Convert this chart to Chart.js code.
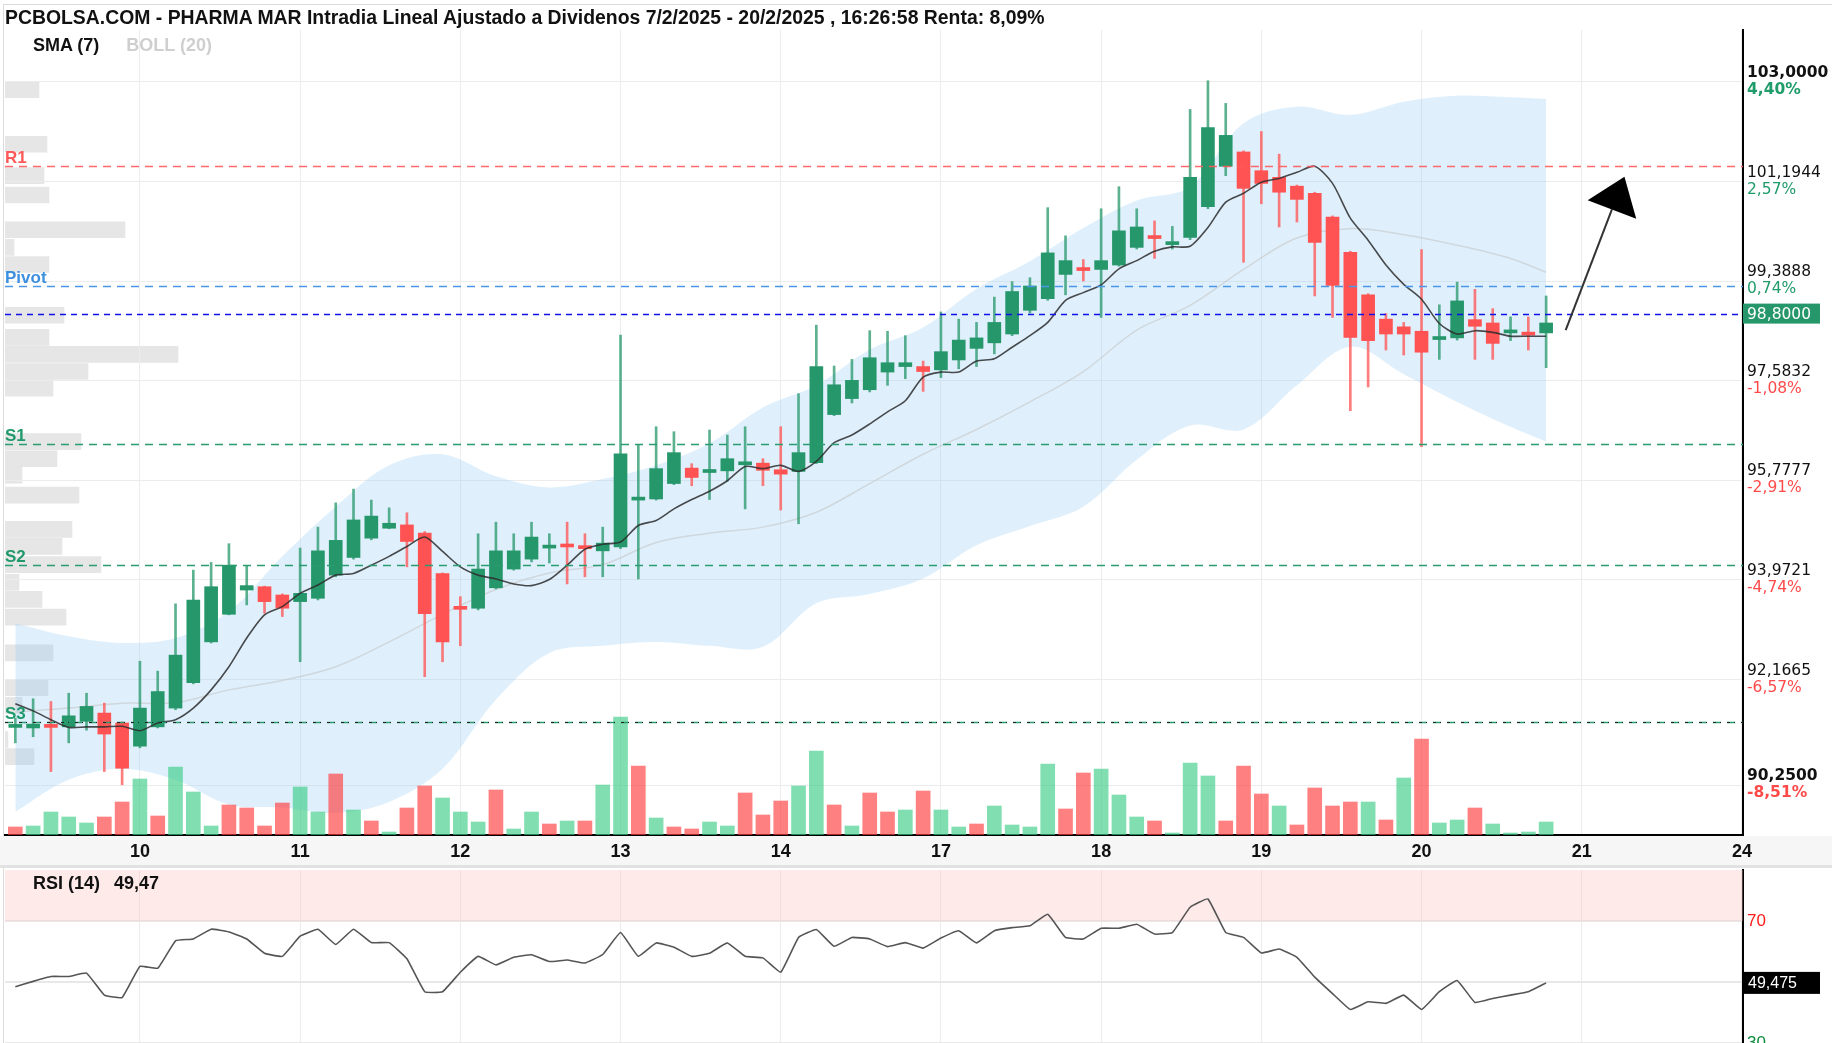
<!DOCTYPE html>
<html>
<head>
<meta charset="utf-8">
<script src="https://cdn.jsdelivr.net/npm/chart.js@4.4.1/dist/chart.umd.min.js"></script>
<style>
  body { margin: 0; background: #fff; width: 1832px; height: 1043px; overflow: hidden; position: relative; font-family: 'Liberation Sans', Arial, sans-serif; }
  canvas { position: absolute; left: 0; }
  #profile, #main { top: 0; }
  #rsi { top: 868px; }
  .txt { position: absolute; white-space: nowrap; }
  #frame { position: absolute; left: 3px; top: 4px; width: 1829px; height: 1039px; border-top: 1px solid #dcdcdc; border-left: 1px solid #dcdcdc; box-sizing: border-box; }
  #title { left: 5px; top: 6px; font: bold 19.4px 'Liberation Sans Narrow', sans-serif; color: #111; }
  #legend { left: 33px; top: 35px; font: bold 18px 'Liberation Sans', sans-serif; color: #111; }
  #legend span { color: #cfcfcf; margin-left: 27px; }
  #rsiLabel { left: 33px; top: 873px; font: bold 18px 'Liberation Sans', sans-serif; color: #111; }
  #rsiLabel span { margin-left: 14px; }
</style>
</head>
<body>
<div id="frame"></div>
<canvas id="profile" width="1832" height="868"></canvas>
<canvas id="main" width="1832" height="868"></canvas>
<canvas id="rsi" width="1832" height="175"></canvas>
<div class="txt" id="title">PCBOLSA.COM - PHARMA MAR Intradia Lineal Ajustado a Dividenos 7/2/2025 - 20/2/2025 , 16:26:58 Renta: 8,09%</div>
<div class="txt" id="legend">SMA (7)<span>BOLL (20)</span></div>
<div class="txt" id="rsiLabel">RSI (14)<span>49,47</span></div>
<script>
// --- datos (velas horarias, 9 por sesión; la primera vela es la de las 11:00 del día 7) ---
const firstSlot = 2;
const days = ['10', '11', '12', '13', '14', '17', '18', '19', '20', '21', '24'];
const daySlots = [9, 18, 27, 36, 45, 54, 63, 72, 81, 90, 99];

const open = [91.30, 91.29, 91.33, 91.31, 91.41, 91.56, 91.38,
  90.96, 91.31, 91.65, 92.11, 92.85, 93.35, 93.79, 93.85, 93.70,
  93.58, 93.64, 94.06, 94.38, 94.73, 94.91, 94.97, 94.82, 94.09,
  93.48, 93.46, 93.83, 94.17, 94.35, 94.55, 94.62, 94.59, 94.50,
  94.57, 95.42, 95.44, 95.72, 96.00, 95.92, 95.95, 96.06, 96.09,
  95.97, 95.94, 96.10, 96.97, 97.26, 97.42, 97.74, 97.84, 97.84,
  97.78, 97.96, 98.17, 98.27, 98.43, 98.86, 99.07, 99.51, 99.62,
  99.60, 99.68, 100.00, 100.20, 100.05, 100.18, 100.74, 101.47, 101.73,
  101.39, 101.27, 101.11, 100.98, 100.55, 99.91, 99.14, 98.70, 98.56,
  98.48, 98.33, 98.36, 98.69, 98.63, 98.45, 98.43, 98.45];
const high = [91.47, 91.82, 91.77, 91.92, 91.92, 91.74, 91.40,
  92.50, 92.32, 93.54, 94.15, 94.29, 94.63, 94.23, 93.86, 93.72,
  94.55, 94.93, 95.37, 95.62, 95.42, 95.28, 95.19, 94.85, 94.10,
  93.67, 94.81, 95.02, 94.81, 95.02, 94.81, 95.02, 94.81, 94.93,
  98.41, 96.42, 96.75, 96.66, 96.08, 96.69, 96.60, 96.75, 96.17,
  96.75, 97.35, 98.59, 97.85, 97.97, 98.49, 98.48, 98.40, 97.94,
  98.83, 98.70, 98.64, 99.10, 99.38, 99.45, 100.72, 100.21, 99.78,
  100.70, 101.10, 100.70, 100.48, 100.38, 102.50, 103.02, 102.61, 101.75,
  102.10, 101.69, 101.13, 101.00, 100.57, 99.93, 99.16, 98.80, 98.64,
  99.96, 98.96, 99.37, 99.24, 98.89, 98.74, 98.74, 99.12];
const low = [91.02, 91.13, 90.50, 91.02, 91.25, 90.50, 90.26,
  90.93, 91.29, 91.62, 92.09, 92.83, 93.34, 93.52, 93.37, 93.31,
  92.49, 93.61, 94.03, 94.35, 94.70, 94.90, 94.21, 92.22, 92.49,
  92.78, 93.43, 93.81, 94.15, 94.30, 94.28, 93.90, 94.03, 94.03,
  94.54, 93.99, 95.42, 95.70, 95.68, 95.43, 95.76, 95.26, 95.68,
  95.24, 94.99, 96.08, 96.95, 97.18, 97.38, 97.50, 97.62, 97.39,
  97.64, 97.80, 97.84, 98.07, 98.40, 98.81, 99.04, 99.14, 99.39,
  98.73, 99.66, 99.97, 99.80, 99.97, 100.14, 100.70, 101.30, 99.73,
  100.79, 100.37, 100.46, 99.12, 98.73, 97.04, 97.47, 98.14, 98.05,
  96.39, 97.97, 98.32, 97.97, 97.97, 98.31, 98.14, 97.82];
const close = [91.34, 91.36, 91.30, 91.51, 91.68, 91.18, 90.56,
  91.65, 91.95, 92.61, 93.61, 93.85, 94.24, 93.87, 93.58, 93.46,
  93.73, 94.50, 94.69, 95.06, 95.13, 95.00, 94.67, 93.36, 92.85,
  93.44, 94.17, 94.50, 94.50, 94.75, 94.60, 94.57, 94.54, 94.64,
  96.26, 95.47, 95.99, 96.28, 95.83, 95.97, 96.17, 96.10, 95.96,
  95.89, 96.28, 97.84, 97.51, 97.59, 98.00, 97.91, 97.91, 97.75,
  98.11, 98.32, 98.36, 98.64, 99.20, 99.30, 99.90, 99.76, 99.58,
  99.76, 100.30, 100.37, 100.16, 100.08, 101.27, 102.17, 102.03, 101.07,
  101.16, 101.00, 100.87, 100.09, 99.31, 98.37, 98.31, 98.43, 98.43,
  98.10, 98.38, 99.03, 98.57, 98.26, 98.48, 98.41, 98.63];
const volume = [8, 9, 23, 18, 12, 18, 33,
  56, 19, 68, 43, 9, 30, 27, 9, 32,
  48, 23, 61, 25, 14, 3, 27, 49, 37,
  23, 13, 45, 6, 23, 11, 14, 14, 50,
  118, 69, 17, 8, 6, 13, 9, 42, 20,
  34, 49, 84, 30, 9, 42, 23, 25, 44,
  25, 8, 11, 29, 10, 8, 71, 26, 62,
  66, 40, 18, 14, 2, 72, 59, 14, 69,
  41, 29, 10, 47, 29, 33, 33, 15, 57,
  96, 12, 15, 27, 11, 2, 3, 13];
const volumeUp = [0, 1, 1, 1, 1, 0, 0,
  1, 0, 1, 1, 1, 0, 0, 0, 0,
  1, 1, 0, 1, 0, 1, 0, 0, 1,
  1, 1, 0, 1, 1, 0, 1, 0, 1,
  1, 0, 1, 0, 0, 1, 1, 0, 0,
  0, 1, 1, 0, 1, 0, 0, 1, 0,
  1, 1, 0, 1, 1, 1, 1, 0, 0,
  1, 1, 1, 0, 1, 1, 1, 0, 0,
  0, 1, 0, 0, 0, 0, 1, 0, 1,
  0, 1, 1, 0, 1, 1, 1, 1];
const sma7 = [91.73, 91.60, 91.44, 91.30, 91.31, 91.31, 91.32,
  91.24, 91.38, 91.44, 91.65, 91.98, 92.40, 92.92, 93.34, 93.49,
  93.73, 93.88, 94.06, 94.09, 94.24, 94.40, 94.58, 94.75, 94.49,
  94.21, 94.06, 93.99, 93.90, 93.87, 93.98, 94.24, 94.53, 94.62,
  94.66, 94.96, 95.05, 95.26, 95.43, 95.58, 95.77, 96.03, 95.99,
  96.05, 95.94, 96.12, 96.46, 96.60, 96.80, 97.02, 97.22, 97.65,
  97.74, 97.74, 97.94, 97.98, 98.19, 98.40, 98.64, 99.04, 99.18,
  99.32, 99.61, 99.76, 99.93, 100.01, 100.02, 100.36, 100.82, 100.98,
  101.18, 101.25, 101.36, 101.47, 101.16, 100.53, 100.13, 99.68, 99.33,
  99.06, 98.62, 98.43, 98.49, 98.46, 98.39, 98.39, 98.39];

const bbSlots = [2, 5, 8, 11, 14, 17, 20, 23, 26, 29, 32, 35, 38, 41, 44, 47, 50, 53, 56, 59, 62, 65, 68, 71, 74, 77, 80, 83, 86, 88];
const bbUpper = [93.19, 92.95, 92.83, 92.92, 93.40, 94.40, 95.30, 96.05, 96.25, 95.85, 95.65, 95.80, 96.05, 96.45, 97.10,
  97.50, 98.15, 98.55, 99.25, 99.75, 100.35, 100.85, 101.10, 102.25, 102.55, 102.40, 102.64, 102.75, 102.72, 102.69];
const bbMid = [91.58, 91.65, 91.74, 91.75, 91.98, 92.15, 92.40, 92.85, 93.35, 93.80, 94.10, 94.25, 94.65, 94.82, 94.93,
  95.20, 95.72, 96.25, 96.70, 97.20, 97.75, 98.50, 98.95, 99.60, 100.17, 100.34, 100.23, 100.04, 99.80, 99.55];
const bbLower = [89.77, 90.35, 90.55, 90.35, 89.90, 89.85, 89.75, 89.95, 90.55, 91.80, 92.65, 92.78, 92.85, 92.78, 92.76,
  93.55, 93.72, 94.00, 94.60, 94.95, 95.30, 96.15, 96.77, 96.70, 97.50, 98.20, 97.70, 97.20, 96.75, 96.48];

const rsi14 = [48.4, 50.2, 51.8, 51.8, 52.9, 45.7, 44.9,
  55.1, 54.5, 63.5, 64.1, 67.3, 66.4, 64.1, 59.4, 58.4,
  65.0, 67.3, 62.3, 67.3, 62.9, 62.9, 57.6, 46.8, 46.8,
  53.2, 58.4, 55.6, 58.1, 58.9, 56.7, 57.2, 56.2, 59.0,
  66.2, 58.4, 62.8, 61.4, 58.4, 59.4, 62.8, 58.4, 57.9,
  53.2, 64.6, 67.2, 61.7, 64.6, 64.1, 61.6, 62.9, 61.1,
  64.4, 66.8, 62.8, 66.8, 67.8, 68.4, 72.2, 64.6, 64.1,
  67.6, 67.6, 68.9, 65.7, 66.2, 74.5, 77.2, 66.2, 64.6,
  59.5, 60.8, 58.1, 51.6, 46.2, 41.0, 43.5, 43.0, 45.7,
  41.0, 46.8, 50.5, 43.3, 44.6, 45.7, 46.8, 49.7];
const rsiLast = '49,475';

// Volumen por precio (barras grises a la izquierda)
const profilePrices = [102.86, 101.87, 101.30, 100.95, 100.32, 100.00, 99.69, 98.77, 98.37, 98.06, 97.75, 97.45,
  96.48, 96.17, 95.87, 95.51, 94.89, 94.58, 94.25, 93.93, 93.62, 93.30, 92.65, 92.02, 91.70, 91.08, 90.77];
const profileVol = [34, 42, 39, 44, 120, 9, 44, 59, 44, 173, 83, 48,
  76, 52, 17, 74, 67, 57, 96, 14, 37, 61, 48, 43, 17, 3, 29];

// Pivotes
const pivotNames = ['R1', 'Pivot', 'S1', 'S2', 'S3'];
const pivotValues = [101.48, 99.30, 96.44, 94.24, 91.40];
const lastPrice = 98.80;

// Eje de precios
const priceTicks = [103.0, 101.1944, 99.3888, 97.5832, 95.7777, 93.9721, 92.1665, 90.25];
const priceTickLabels = ['103,0000', '101,1944', '99,3888', '97,5832', '95,7777', '93,9721', '92,1665', '90,2500'];
const pctTickLabels = ['4,40%', '2,57%', '0,74%', '-1,08%', '-2,91%', '-4,74%', '-6,57%', '-8,51%'];

// Flecha dibujada a mano (en coordenadas de datos)
const arrowFrom = { x: 89.1, y: 98.50 };
const arrowTo = { x: 92.4, y: 101.28 };

const GREEN = '#25976a';
const RED = '#ff5252';
const X_MIN = 1.42, X_MAX = 99.06;
const P_MIN = 89.35, P_MAX = 103.94;

Chart.defaults.font.family = "'Liberation Sans', Arial, sans-serif";
Chart.defaults.animation = false;

const slotOf = i => firstSlot + i;
const up = open.map((o, i) => close[i] >= o);

// ---------- volumen por precio ----------
new Chart(document.getElementById('profile'), {
  type: 'bar',
  data: {
    datasets: [{
      data: profilePrices.map((p, i) => ({ x: profileVol[i], y: p })),
      backgroundColor: 'rgba(205,205,205,0.5)',
      barThickness: 16,
      borderWidth: 0
    }]
  },
  options: {
    indexAxis: 'y',
    responsive: false,
    devicePixelRatio: 1,
    layout: { padding: { left: 5, top: 30, right: 89, bottom: 33 } },
    scales: {
      y: { type: 'linear', min: P_MIN, max: P_MAX, display: false, offset: false },
      x: { type: 'linear', min: 0, max: 1738, display: false }
    },
    plugins: { legend: { display: false }, tooltip: { enabled: false } }
  }
});

// ---------- plugins del gráfico principal ----------
const labelBand = {
  id: 'labelBand',
  beforeDraw(chart) {
    const { ctx, chartArea } = chart;
    ctx.save();
    ctx.fillStyle = '#f6f6f6';
    ctx.fillRect(0, chartArea.bottom + 1, chart.width, chart.height - chartArea.bottom - 1);
    ctx.fillStyle = '#e2e2e2';
    ctx.fillRect(0, chart.height - 3, chart.width, 3);
    ctx.restore();
  }
};

const levels = {
  id: 'levels',
  afterDatasetsDraw(chart) {
    const { ctx, chartArea: a, scales: { x, y } } = chart;
    const styles = [
      { color: 'rgba(255,90,90,0.9)', text: '#ff5a5a', dash: [8, 6] },
      { color: '#4a96e8', text: '#3d8fe0', dash: [8, 6] },
      { color: '#2a9c70', text: '#20996a', dash: [8, 6] },
      { color: '#2a9c70', text: '#20996a', dash: [8, 6] },
      { color: '#2a9c70', text: '#20996a', dash: [8, 6] }
    ];
    ctx.save();
    ctx.beginPath();
    ctx.rect(a.left, a.top, a.right - a.left, a.bottom - a.top);
    ctx.clip();
    pivotValues.forEach((v, i) => {
      const py = Math.round(y.getPixelForValue(v)) + 0.5;
      ctx.strokeStyle = styles[i].color;
      ctx.lineWidth = 1.5;
      ctx.setLineDash(styles[i].dash);
      ctx.beginPath(); ctx.moveTo(a.left, py); ctx.lineTo(a.right, py); ctx.stroke();
      if (pivotNames[i] === 'S3') {
        ctx.strokeStyle = '#222';
        ctx.lineWidth = 1.2;
        ctx.setLineDash([3, 4, 1, 6]);
        ctx.beginPath(); ctx.moveTo(a.left, py); ctx.lineTo(a.right, py); ctx.stroke();
      }
      ctx.setLineDash([]);
      ctx.font = "bold 17px 'Liberation Sans', Arial";
      ctx.fillStyle = styles[i].text;
      ctx.textBaseline = 'alphabetic';
      ctx.fillText(pivotNames[i], a.left, py - 4);
    });
    const pp = Math.round(y.getPixelForValue(lastPrice)) + 0.5;
    ctx.strokeStyle = '#1010e8';
    ctx.lineWidth = 1.5;
    ctx.setLineDash([6, 5]);
    ctx.beginPath(); ctx.moveTo(a.left, pp); ctx.lineTo(a.right, pp); ctx.stroke();
    ctx.setLineDash([]);

    // flecha
    const x0 = x.getPixelForValue(arrowFrom.x), y0 = y.getPixelForValue(arrowFrom.y);
    const x1 = x.getPixelForValue(arrowTo.x), y1 = y.getPixelForValue(arrowTo.y);
    const len = Math.hypot(x1 - x0, y1 - y0);
    const ux = (x1 - x0) / len, uy = (y1 - y0) / len;
    const head = 35, half = 26;
    const bx = x1 - ux * head, by = y1 - uy * head;
    ctx.strokeStyle = '#333';
    ctx.lineWidth = 2;
    ctx.beginPath(); ctx.moveTo(x0, y0); ctx.lineTo(bx, by); ctx.stroke();
    ctx.fillStyle = '#000';
    ctx.beginPath();
    ctx.moveTo(x1, y1);
    ctx.lineTo(bx - uy * half, by + ux * half);
    ctx.lineTo(bx + uy * half, by - ux * half);
    ctx.closePath();
    ctx.fill();
    ctx.restore();
  }
};

const priceAxis = {
  id: 'priceAxis',
  afterDraw(chart) {
    const { ctx, chartArea: a, scales: { y } } = chart;
    ctx.save();
    ctx.textAlign = 'left';
    ctx.textBaseline = 'middle';
    priceTicks.forEach((v, i) => {
      const py = y.getPixelForValue(v);
      const edge = i === 0 || i === priceTicks.length - 1;
      ctx.font = (edge ? 'bold ' : '') + "15.5px 'DejaVu Sans'";
      ctx.fillStyle = '#111';
      ctx.fillText(priceTickLabels[i], a.right + 4, py - 9);
      ctx.fillStyle = pctTickLabels[i].charAt(0) === '-' ? '#ff4a4a' : '#1f9c6a';
      ctx.fillText(pctTickLabels[i], a.right + 4, py + 8);
    });
    const pp = y.getPixelForValue(lastPrice);
    ctx.fillStyle = GREEN;
    ctx.fillRect(a.right, pp - 10, 77, 20);
    ctx.fillStyle = '#fff';
    ctx.font = "15.5px 'DejaVu Sans'";
    ctx.fillText(lastPrice.toFixed(4).replace('.', ','), a.right + 4, pp + 1);
    ctx.restore();
  }
};

// ---------- gráfico principal ----------
new Chart(document.getElementById('main'), {
  type: 'bar',
  data: {
    datasets: [
      {
        type: 'line', label: 'BOLL sup',
        data: bbSlots.map((s, i) => ({ x: s, y: bbUpper[i] })),
        borderWidth: 0, borderColor: 'rgba(0,0,0,0)', pointRadius: 0, tension: 0.35,
        fill: '+1', backgroundColor: 'rgba(150,205,245,0.3)', order: 10
      },
      {
        type: 'line', label: 'BOLL inf',
        data: bbSlots.map((s, i) => ({ x: s, y: bbLower[i] })),
        borderWidth: 0, borderColor: 'rgba(0,0,0,0)', pointRadius: 0, tension: 0.35,
        fill: false, order: 10
      },
      {
        type: 'line', label: 'BOLL media',
        data: bbSlots.map((s, i) => ({ x: s, y: bbMid[i] })),
        borderWidth: 1.5, borderColor: 'rgba(195,195,195,0.55)', pointRadius: 0, tension: 0.35,
        fill: false, order: 7
      },
      {
        label: 'Volumen', yAxisID: 'yVol',
        data: volume.map((v, i) => ({ x: slotOf(i), y: v })),
        backgroundColor: volumeUp.map(u => u ? 'rgba(60,205,135,0.65)' : 'rgba(255,60,60,0.65)'),
        barThickness: 14, grouped: false, order: 8
      },
      {
        label: 'Mechas',
        data: high.map((h, i) => ({ x: slotOf(i), y: [low[i], h] })),
        backgroundColor: up.map(u => u ? 'rgba(37,151,106,0.75)' : 'rgba(255,82,82,0.75)'),
        barThickness: 2, grouped: false, order: 5
      },
      {
        label: 'Velas',
        data: open.map((o, i) => ({ x: slotOf(i), y: [o, close[i]] })),
        backgroundColor: up.map(u => u ? GREEN : RED),
        barThickness: 13, minBarLength: 3, grouped: false, order: 4
      },
      {
        type: 'line', label: 'SMA (7)',
        data: sma7.map((v, i) => ({ x: slotOf(i), y: v })),
        borderWidth: 1.6, borderColor: 'rgba(45,45,45,0.85)', pointRadius: 0, tension: 0.25,
        fill: false, order: 3
      }
    ]
  },
  options: {
    responsive: false,
    devicePixelRatio: 1,
    layout: { padding: { left: 5, top: 30, right: 0, bottom: 0 } },
    scales: {
      x: {
        type: 'linear', min: X_MIN, max: X_MAX, position: 'bottom', offset: false,
        afterBuildTicks: s => { s.ticks = daySlots.map(v => ({ value: v })); },
        afterFit: s => { s.height = 33; },
        ticks: {
          callback: v => days[daySlots.indexOf(v)],
          autoSkip: false, maxRotation: 0, padding: 6, color: '#111',
          font: { family: "'Liberation Sans Narrow', sans-serif", weight: 'bold', size: 18 }
        },
        grid: { color: '#ececec', drawTicks: false, offset: false },
        border: { color: '#000', width: 2 }
      },
      y: {
        type: 'linear', position: 'right', min: P_MIN, max: P_MAX,
        afterBuildTicks: s => { s.ticks = priceTicks.map(v => ({ value: v })); },
        afterFit: s => { s.width = 89; },
        ticks: { display: false },
        grid: { color: '#ececec', drawTicks: false },
        border: { color: '#000', width: 2 }
      },
      yVol: { type: 'linear', display: false, min: 0, max: 805 }
    },
    plugins: { legend: { display: false }, tooltip: { enabled: false } }
  },
  plugins: [labelBand, levels, priceAxis]
});

// ---------- RSI ----------
const rsiDecor = {
  id: 'rsiDecor',
  beforeDatasetsDraw(chart) {
    const { ctx, chartArea: a, scales: { y } } = chart;
    ctx.save();
    ctx.fillStyle = 'rgba(255,190,190,0.32)';
    const y70 = y.getPixelForValue(70);
    ctx.fillRect(a.left, a.top, a.right - a.left, y70 - a.top);
    ctx.restore();
  },
  afterDraw(chart) {
    const { ctx, chartArea: a, scales: { y } } = chart;
    ctx.save();
    ctx.textBaseline = 'middle';
    ctx.font = "17px 'Liberation Sans Narrow', sans-serif";
    ctx.fillStyle = '#ff1a1a';
    ctx.fillText('70', a.right + 4, y.getPixelForValue(70));
    ctx.fillStyle = '#0a8a3a';
    ctx.fillText('30', a.right + 4, y.getPixelForValue(30));
    const py = y.getPixelForValue(rsi14[rsi14.length - 1]);
    ctx.fillStyle = '#000';
    ctx.fillRect(a.right, py - 11, 77, 22);
    ctx.fillStyle = '#fff';
    ctx.font = "16px 'Liberation Sans Narrow', sans-serif";
    ctx.fillText(rsiLast, a.right + 5, py + 1);
    ctx.restore();
  }
};

new Chart(document.getElementById('rsi'), {
  type: 'line',
  data: {
    datasets: [{
      data: rsi14.map((v, i) => ({ x: slotOf(i), y: v })),
      borderColor: '#555', borderWidth: 1.6, pointRadius: 0, tension: 0.1, fill: false
    }]
  },
  options: {
    responsive: false,
    devicePixelRatio: 1,
    layout: { padding: { left: 5, top: 2, right: 0, bottom: 0 } },
    scales: {
      x: {
        type: 'linear', min: X_MIN, max: X_MAX,
        afterBuildTicks: s => { s.ticks = daySlots.map(v => ({ value: v })); },
        afterFit: s => { s.height = 0; },
        ticks: { display: false },
        grid: { color: '#ececec', drawTicks: false },
        border: { display: false }
      },
      y: {
        type: 'linear', position: 'right', min: 30, max: 86.7,
        afterBuildTicks: s => { s.ticks = [30, 50, 70].map(v => ({ value: v })); },
        afterFit: s => { s.width = 89; },
        ticks: { display: false },
        grid: { color: '#e8e8e8', drawTicks: false, lineWidth: 2 },
        border: { color: '#000', width: 2 }
      }
    },
    plugins: { legend: { display: false }, tooltip: { enabled: false } }
  },
  plugins: [rsiDecor]
});
</script>
</body>
</html>
